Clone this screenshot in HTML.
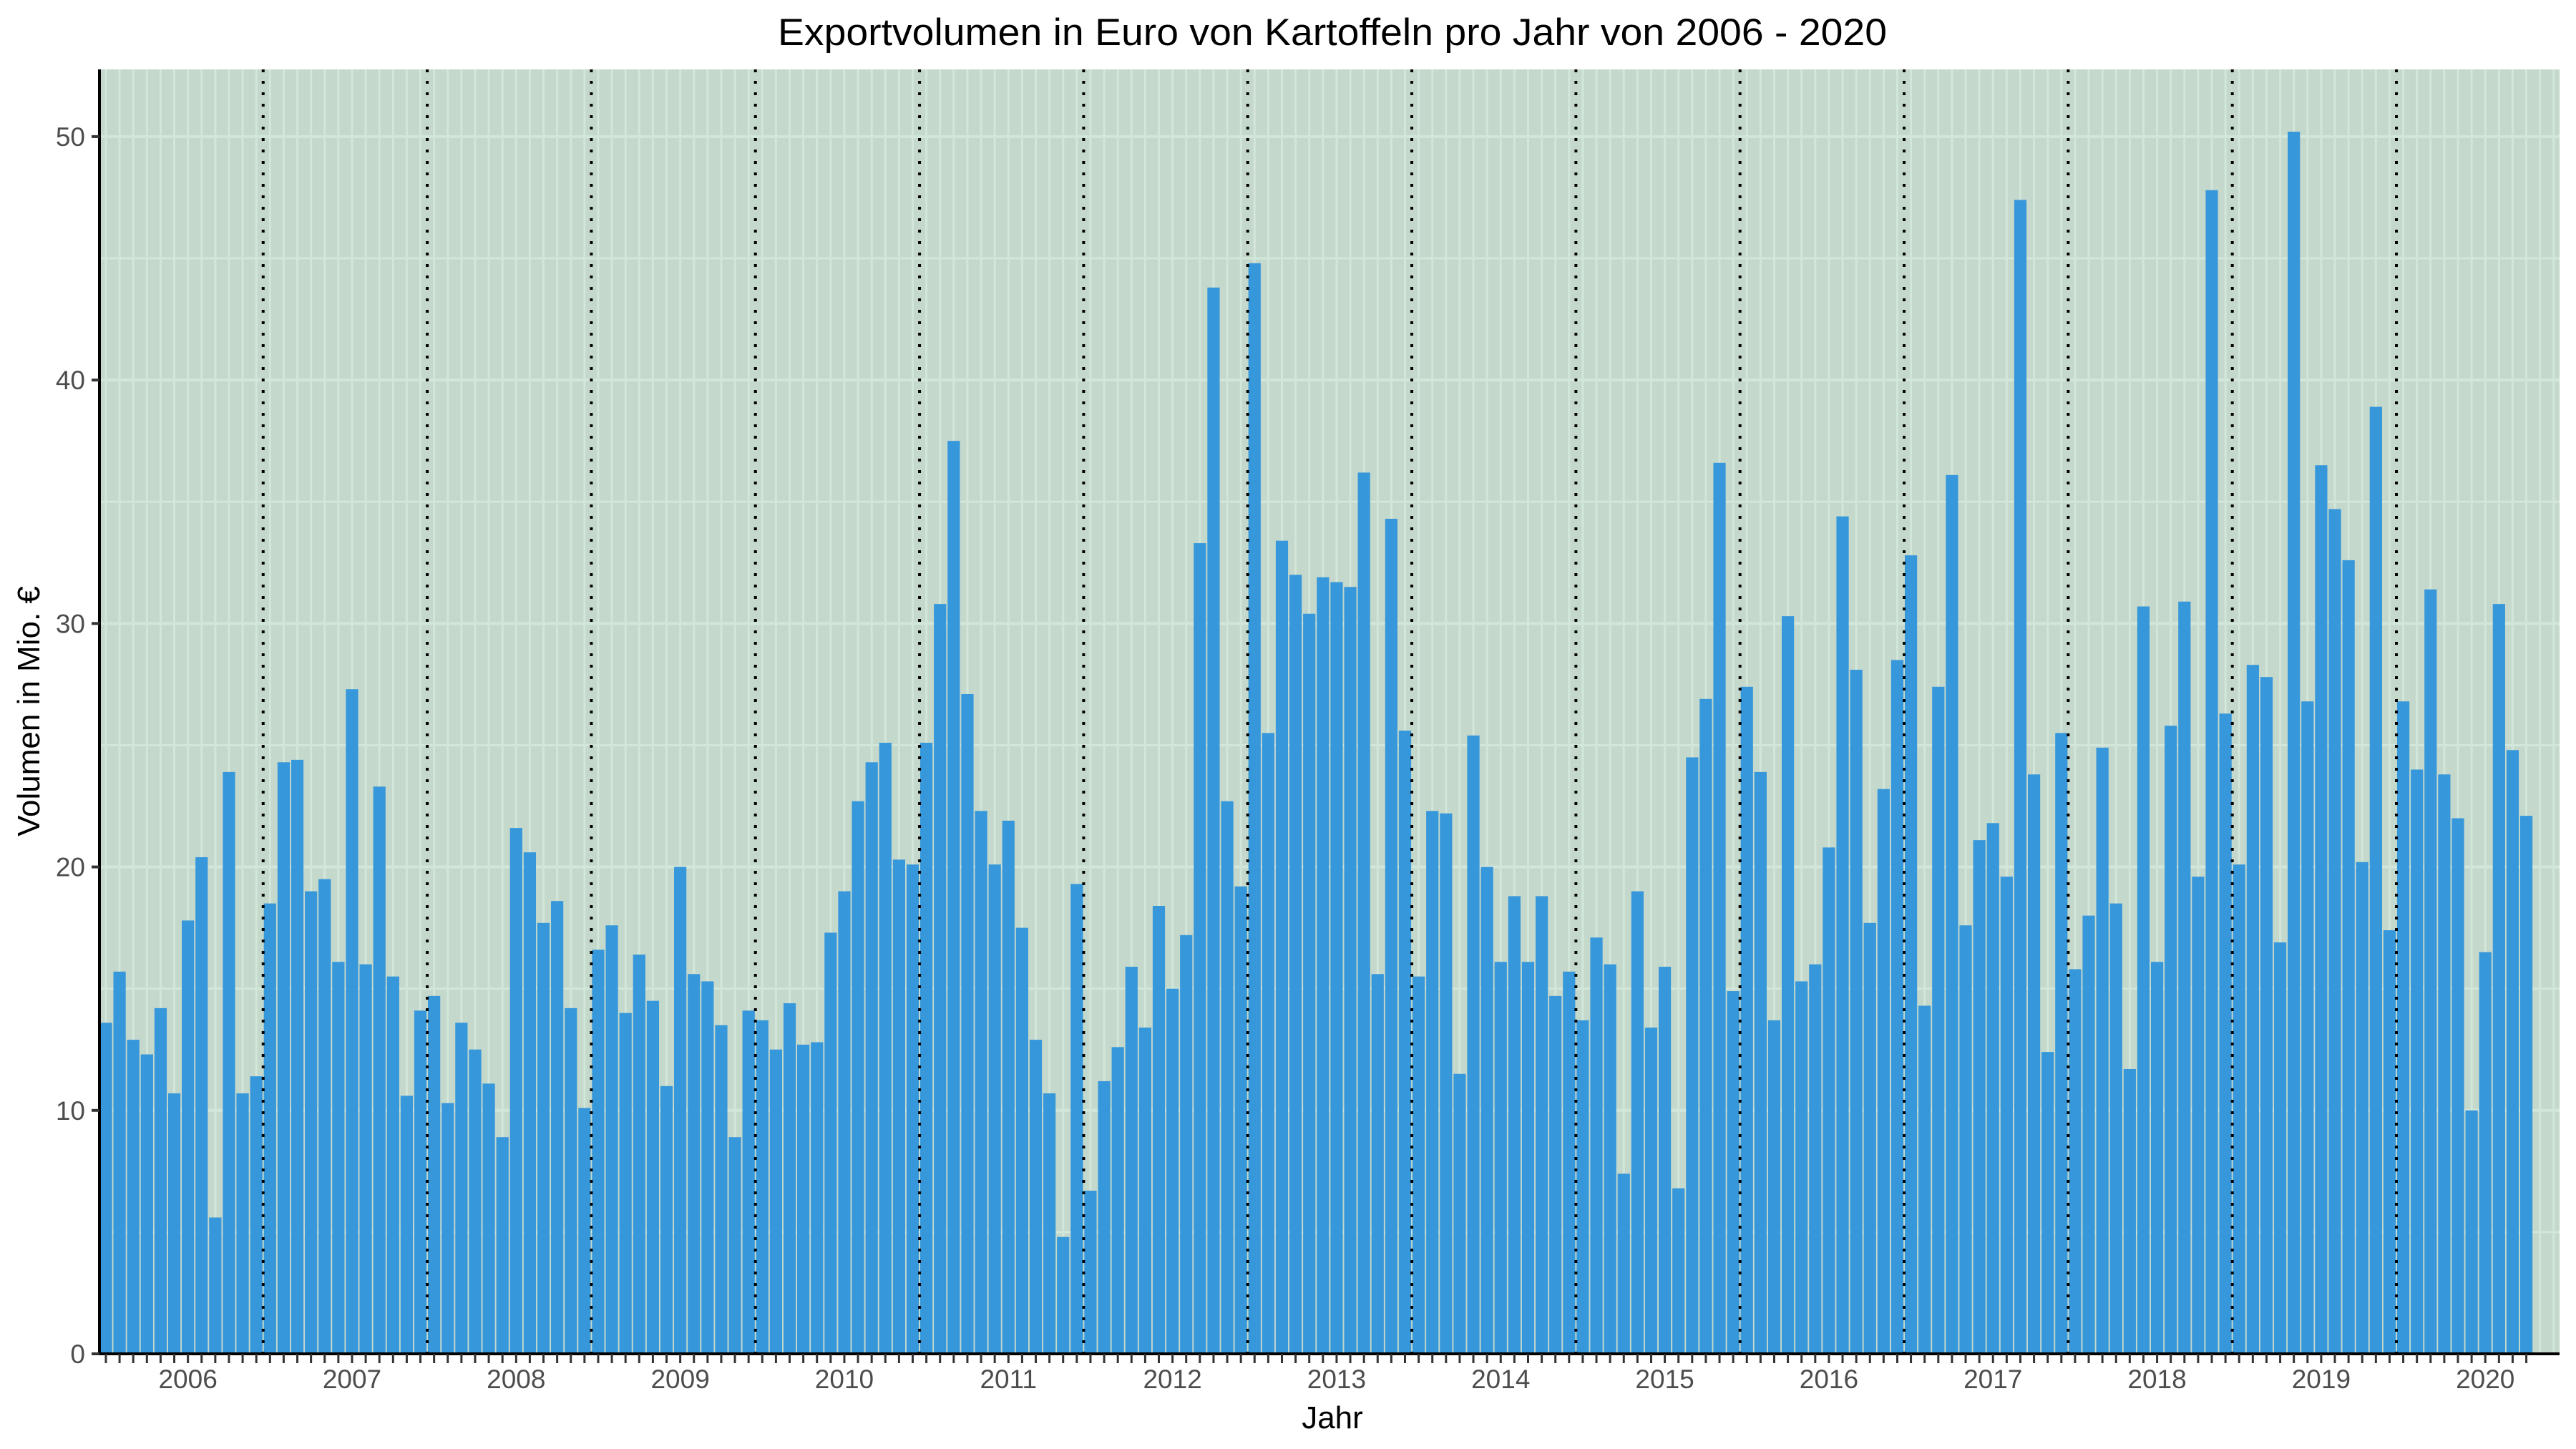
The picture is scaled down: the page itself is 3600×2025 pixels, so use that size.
<!DOCTYPE html>
<html><head><meta charset="utf-8"><style>
html,body{margin:0;padding:0;background:#fff;}
svg{display:block;font-family:"Liberation Sans",sans-serif;}
</style></head><body>
<svg id="chart" width="3600" height="2025" viewBox="0 0 3600 2025" xmlns="http://www.w3.org/2000/svg">
<rect x="0" y="0" width="3600" height="2025" fill="#fff"/>
<text x="1862" y="63" font-size="53" text-anchor="middle" fill="#000" textLength="1550" lengthAdjust="spacingAndGlyphs">Exportvolumen in Euro von Kartoffeln pro Jahr von 2006 - 2020</text>
<rect x="139" y="97" width="3438" height="1795" fill="#c4d8cc"/>
<g id="grid"></g>
<g id="bars"></g>
<g id="dividers"></g>
<g id="axes"></g>
<text transform="translate(55,994) rotate(-90)" font-size="44" text-anchor="middle" fill="#000">Volumen in Mio. €</text>
<text x="1862" y="1996" font-size="44" text-anchor="middle" fill="#000">Jahr</text>
</svg>
<script>
const years = [2006,2007,2008,2009,2010,2011,2012,2013,2014,2015,2016,2017,2018,2019,2020];
const yTicks = [0,10,20,30,40,50];
const v2006 = [13.6,15.7,12.9,12.3,14.2,10.7,17.8,20.4,5.6,23.9,10.7,11.4];
const v2007 = [18.5,24.3,24.4,19.0,19.5,16.1,27.3,16.0,23.3,15.5,10.6,14.1];
const v2008 = [14.7,10.3,13.6,12.5,11.1,8.9,21.6,20.6,17.7,18.6,14.2,10.1];
const v2009 = [16.6,17.6,14.0,16.4,14.5,11.0,20.0,15.6,15.3,13.5,8.9,14.1];
const v2010 = [13.7,12.5,14.4,12.7,12.8,17.3,19.0,22.7,24.3,25.1,20.3,20.1];
const v2011 = [25.1,30.8,37.5,27.1,22.3,20.1,21.9,17.5,12.9,10.7,4.8,19.3];
const v2012 = [6.7,11.2,12.6,15.9,13.4,18.4,15.0,17.2,33.3,43.8,22.7,19.2];
const v2013 = [44.8,25.5,33.4,32.0,30.4,31.9,31.7,31.5,36.2,15.6,34.3,25.6];
const v2014 = [15.5,22.3,22.2,11.5,25.4,20.0,16.1,18.8,16.1,18.8,14.7,15.7];
const v2015 = [13.7,17.1,16.0,7.4,19.0,13.4,15.9,6.8,24.5,26.9,36.6,14.9];
const v2016 = [27.4,23.9,13.7,30.3,15.3,16.0,20.8,34.4,28.1,17.7,23.2,28.5];
const v2017 = [32.8,14.3,27.4,36.1,17.6,21.1,21.8,19.6,47.4,23.8,12.4,25.5];
const v2018 = [15.8,18.0,24.9,18.5,11.7,30.7,16.1,25.8,30.9,19.6,47.8,26.3];
const v2019 = [20.1,28.3,27.8,16.9,50.2,26.8,36.5,34.7,32.6,20.2,38.9,17.4];
const v2020 = [26.8,24.0,31.4,23.8,22.0,10.0,16.5,30.8,24.8,22.1];
const values = [].concat(v2006,v2007,v2008,v2009,v2010,v2011,v2012,v2013,v2014,v2015,v2016,v2017,v2018,v2019,v2020);

const NS = "http://www.w3.org/2000/svg";
const PL = 139, PR = 3577, PT = 97, PB = 1892;
const xMin = -0.47, xMax = 179.43;
const yMax = 52.76;
function xs(i){ return PL + (i - xMin) / (xMax - xMin) * (PR - PL); }
function ys(v){ return PB - v / yMax * (PB - PT); }
function mk(tag, attrs, parent){ const e = document.createElementNS(NS, tag); for (const k in attrs) e.setAttribute(k, attrs[k]); parent.appendChild(e); return e; }

const grid = document.getElementById('grid');
for (let v = 5; v < yMax; v += 5) {
  const l = mk('line', {x1:PL, x2:PR, y1:ys(v), y2:ys(v), stroke:'#d3e6da', 'stroke-width': (v % 10 === 0 ? 4 : 3)}, grid);
  
  
}
for (let i = 0; i < 180; i++) {
  const l = mk('line', {x1:xs(i), x2:xs(i), y1:PT, y2:PB, stroke:'#d3e6da', 'stroke-width':3}, grid);
  
  
}

const bars = document.getElementById('bars');
const bw = (xs(1) - xs(0)) * 0.9;
values.forEach((v, i) => {
  const r = mk('rect', {x: xs(i) - bw/2, y: ys(v), width: bw, height: ys(0) - ys(v), fill:'#3697db'}, bars);
  
  
});

const div = document.getElementById('dividers');
for (let k = 1; k < years.length; k++) {
  const x = xs(k*12 - 0.5);
  const l = mk('line', {x1:x, x2:x, y1:PT, y2:PB, stroke:'#000', 'stroke-width':4, 'stroke-dasharray':'4 12'}, div);
  
  
}

const ax = document.getElementById('axes');
const yAxis = mk('line', {x1:PL, x2:PL, y1:PT, y2:PB+2, stroke:'#000', 'stroke-width':4}, ax);


const xAxis = mk('line', {x1:PL-2, x2:PR, y1:PB, y2:PB, stroke:'#000', 'stroke-width':4}, ax);


yTicks.forEach(t => {
  const tk = mk('line', {x1:PL-11, x2:PL, y1:ys(t), y2:ys(t), stroke:'#333', 'stroke-width':4}, ax);
  
  
  const tx = mk('text', {x:PL-20, y:ys(t)+13, 'font-size':37, 'text-anchor':'end', fill:'#4d4d4d'}, ax);
  tx.textContent = String(t);
  
  
});
values.forEach((v, i) => {
  const tk = mk('line', {x1:xs(i), x2:xs(i), y1:PB, y2:PB+13, stroke:'#333', 'stroke-width':3}, ax);
  
  
});
years.forEach((y, k) => {
  const tx = mk('text', {x:xs(k*12+6), y:1940, 'font-size':37, 'text-anchor':'middle', fill:'#4d4d4d'}, ax);
  tx.textContent = String(y);
  
  
});
</script>
</body></html>
